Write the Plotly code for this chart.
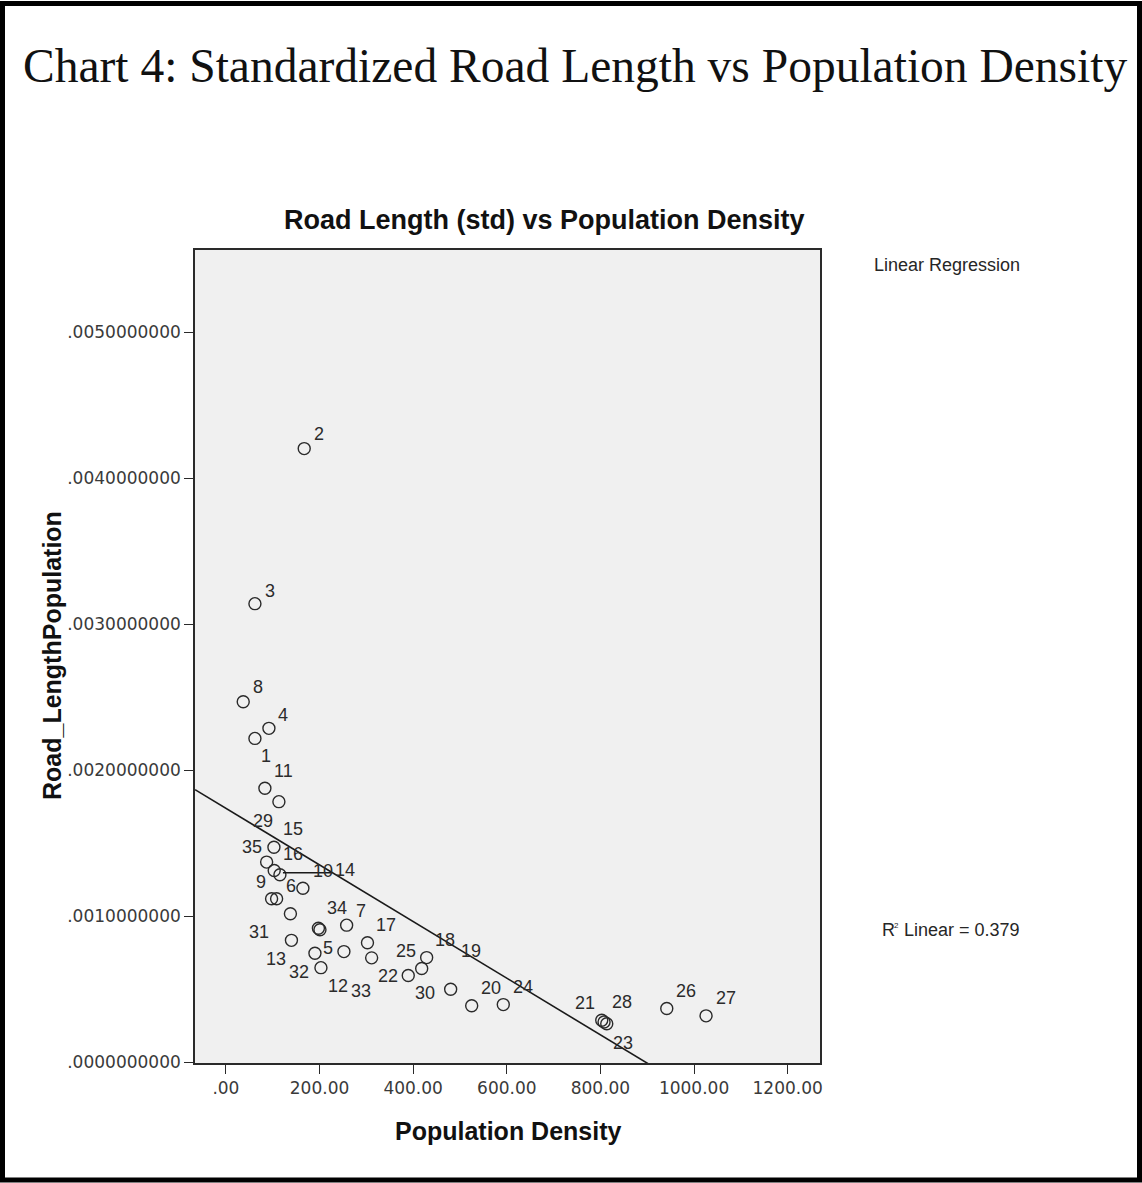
import numpy as np
import plotly.graph_objects as go

# ---------------- data ----------------
case_ids = list(range(1, 36))
pop_density = [62.0, 167.3, 62.0, 91.9, 190.2, 108.3, 257.9, 37.0, 97.6, 115.4,
               83.3, 252.1, 140.0, 164.5, 102.6, 103.2, 302.4, 428.8, 200.9, 525.0,
               802.8, 389.5, 807.7, 592.5, 418.2, 941.7, 1025.6, 813.5, 113.2, 480.1,
               137.8, 203.0, 311.3, 197.6, 87.0]
road_length_pop = [0.002219, 0.004204, 0.003142, 0.002288, 0.000748, 0.001121, 0.000940, 0.002470, 0.001121, 0.001285,
                   0.001878, 0.000759, 0.000836, 0.001193, 0.001474, 0.001314, 0.000820, 0.000718, 0.000909, 0.000388,
                   0.000289, 0.000595, 0.000277, 0.000396, 0.000643, 0.000369, 0.000319, 0.000265, 0.001786, 0.000501,
                   0.001018, 0.000649, 0.000716, 0.000919, 0.001372]
r2_linear = 0.379

x_tick_vals = [0, 200, 400, 600, 800, 1000, 1200]
y_tick_vals = [0.0, 0.001, 0.002, 0.003, 0.004, 0.005]

main_title = "Chart 4: Standardized Road Length vs Population Density"
chart_title = "Road Length (std) vs Population Density"
x_title = "Population Density"
y_title = "Road_LengthPopulation"
legend_title = "Linear Regression"

# ---------------- styles / positions ----------------
W, H = 1142, 1183
PL, PR, PT, PB = 195, 820, 250, 1063   # plot area in page pixels
X_RANGE = [-66, 1269]
Y_RANGE = [-0.000004, 0.005564]

# label offsets (dx right, dy down) in pixels from each point
label_offsets = {
    1: (11, 18), 2: (15, -15), 3: (15, -13), 4: (14, -13), 5: (13, -5),
    6: (14, -13), 7: (14, -14), 8: (15, -15), 9: (-11, -17), 10: (43, -4),
    11: (19, -17), 12: (-6, 34), 13: (-15, 19), 14: (42, -18), 15: (19, -18),
    16: (19, -17), 17: (19, -18), 18: (18, -18), 19: (151, 21), 20: (19, -18),
    21: (-17, -17), 22: (-20, 0), 23: (19, 21), 24: (20, -18), 25: (-16, -18),
    26: (19, -18), 27: (20, -18), 28: (15, -22), 29: (-16, 19), 30: (-26, 4),
    31: (-31, 18), 32: (-22, 4), 33: (-11, 33), 34: (19, -20), 35: (-15, -15),
}


def pxx(x):
    return (x - PL) / (PR - PL)


def pyy(y):
    return (PB - y) / (PB - PT)


def strip_zero(s):
    return s[1:] if s.startswith("0.") else s


x_tick_text = [strip_zero(f"{v:.2f}") for v in x_tick_vals]
y_tick_text = [strip_zero(f"{v:.10f}") for v in y_tick_vals]

x = np.array(pop_density)
y = np.array(road_length_pop)
slope, intercept = np.polyfit(x, y, 1)
line_x = np.array(X_RANGE, dtype=float)
line_y = intercept + slope * line_x

fig = go.Figure()
fig.add_trace(go.Scatter(
    x=line_x, y=line_y, mode="lines",
    line=dict(color="#1a1a1a", width=1.6), hoverinfo="skip", showlegend=False,
))
fig.add_trace(go.Scatter(
    x=pop_density, y=road_length_pop, mode="markers",
    marker=dict(symbol="circle-open", size=12, color="#2a2a2a", line=dict(width=1.4, color="#2a2a2a")),
    showlegend=False,
))

SANS = "Liberation Sans, Arial, sans-serif"
LABEL_FONT = dict(family=SANS, size=18, color="#2b2b2b")
annotations = []
for cid, xv, yv in zip(case_ids, pop_density, road_length_pop):
    dx, dy = label_offsets[cid]
    annotations.append(dict(
        x=xv, y=yv, xref="x", yref="y", text=str(cid), showarrow=False,
        xshift=dx, yshift=-dy, font=LABEL_FONT, xanchor="center", yanchor="middle",
    ))

annotations += [
    dict(text=main_title, xref="paper", yref="paper", x=pxx(575), y=pyy(66),
         showarrow=False, xanchor="center", yanchor="middle",
         font=dict(family="Liberation Serif, Times New Roman, serif", size=47.5, color="#111")),
    dict(text=f"<b>{chart_title}</b>", xref="paper", yref="paper", x=pxx(544), y=pyy(220),
         showarrow=False, xanchor="center", yanchor="middle",
         font=dict(family=SANS, size=27, color="#111")),
    dict(text=f"<b>{x_title}</b>", xref="paper", yref="paper", x=pxx(508), y=pyy(1131),
         showarrow=False, xanchor="center", yanchor="middle",
         font=dict(family=SANS, size=25, color="#111")),
    dict(text=f"<b>{y_title}</b>", xref="paper", yref="paper", x=pxx(52), y=pyy(656),
         showarrow=False, xanchor="center", yanchor="middle", textangle=-90,
         font=dict(family=SANS, size=25, color="#111")),
    dict(text=legend_title, xref="paper", yref="paper", x=pxx(872), y=pyy(265),
         showarrow=False, xanchor="left", yanchor="middle",
         font=dict(family=SANS, size=18, color="#262626")),
    dict(text="R", xref="paper", yref="paper", x=pxx(880), y=pyy(930),
         showarrow=False, xanchor="left", yanchor="middle",
         font=dict(family=SANS, size=18, color="#262626")),
    dict(text="2", xref="paper", yref="paper", x=pxx(892), y=pyy(925),
         showarrow=False, xanchor="left", yanchor="middle",
         font=dict(family=SANS, size=8, color="#262626")),
    dict(text=f"Linear = {r2_linear:.3f}", xref="paper", yref="paper", x=pxx(902), y=pyy(930),
         showarrow=False, xanchor="left", yanchor="middle",
         font=dict(family=SANS, size=18, color="#262626")),
]

shapes = [
    # page frame
    dict(type="rect", xref="paper", yref="paper",
         x0=pxx(2.5), x1=pxx(1139.5), y0=pyy(1180), y1=pyy(3.5),
         line=dict(color="#000", width=5), fillcolor="rgba(0,0,0,0)", layer="above"),
    # connector for the label of case 10
    dict(type="line", xref="x", yref="y", xsizemode="pixel", ysizemode="pixel",
         xanchor=pop_density[9], yanchor=road_length_pop[9],
         x0=3, x1=52, y0=2, y1=2, line=dict(color="#1a1a1a", width=1.4)),
]

axis_common = dict(
    showgrid=False, zeroline=False, showline=True, mirror=True,
    linecolor="#2a2a2a", linewidth=1.6, ticks="outside", ticklen=9, tickwidth=1.4,
    tickcolor="#2a2a2a",
    tickfont=dict(family="DejaVu Sans, Arial, sans-serif", size=17, color="#3a3a3a"),
)

fig.update_layout(
    width=W, height=H, autosize=False,
    margin=dict(l=PL, r=W - PR, t=PT, b=H - PB, pad=0),
    paper_bgcolor="white", plot_bgcolor="#f0f0f0",
    xaxis=dict(range=X_RANGE, tickvals=x_tick_vals, ticktext=x_tick_text, **axis_common),
    yaxis=dict(range=Y_RANGE, tickvals=y_tick_vals, ticktext=y_tick_text, **axis_common),
    annotations=annotations, shapes=shapes, showlegend=False,
)

fig.write_html("out.html")
